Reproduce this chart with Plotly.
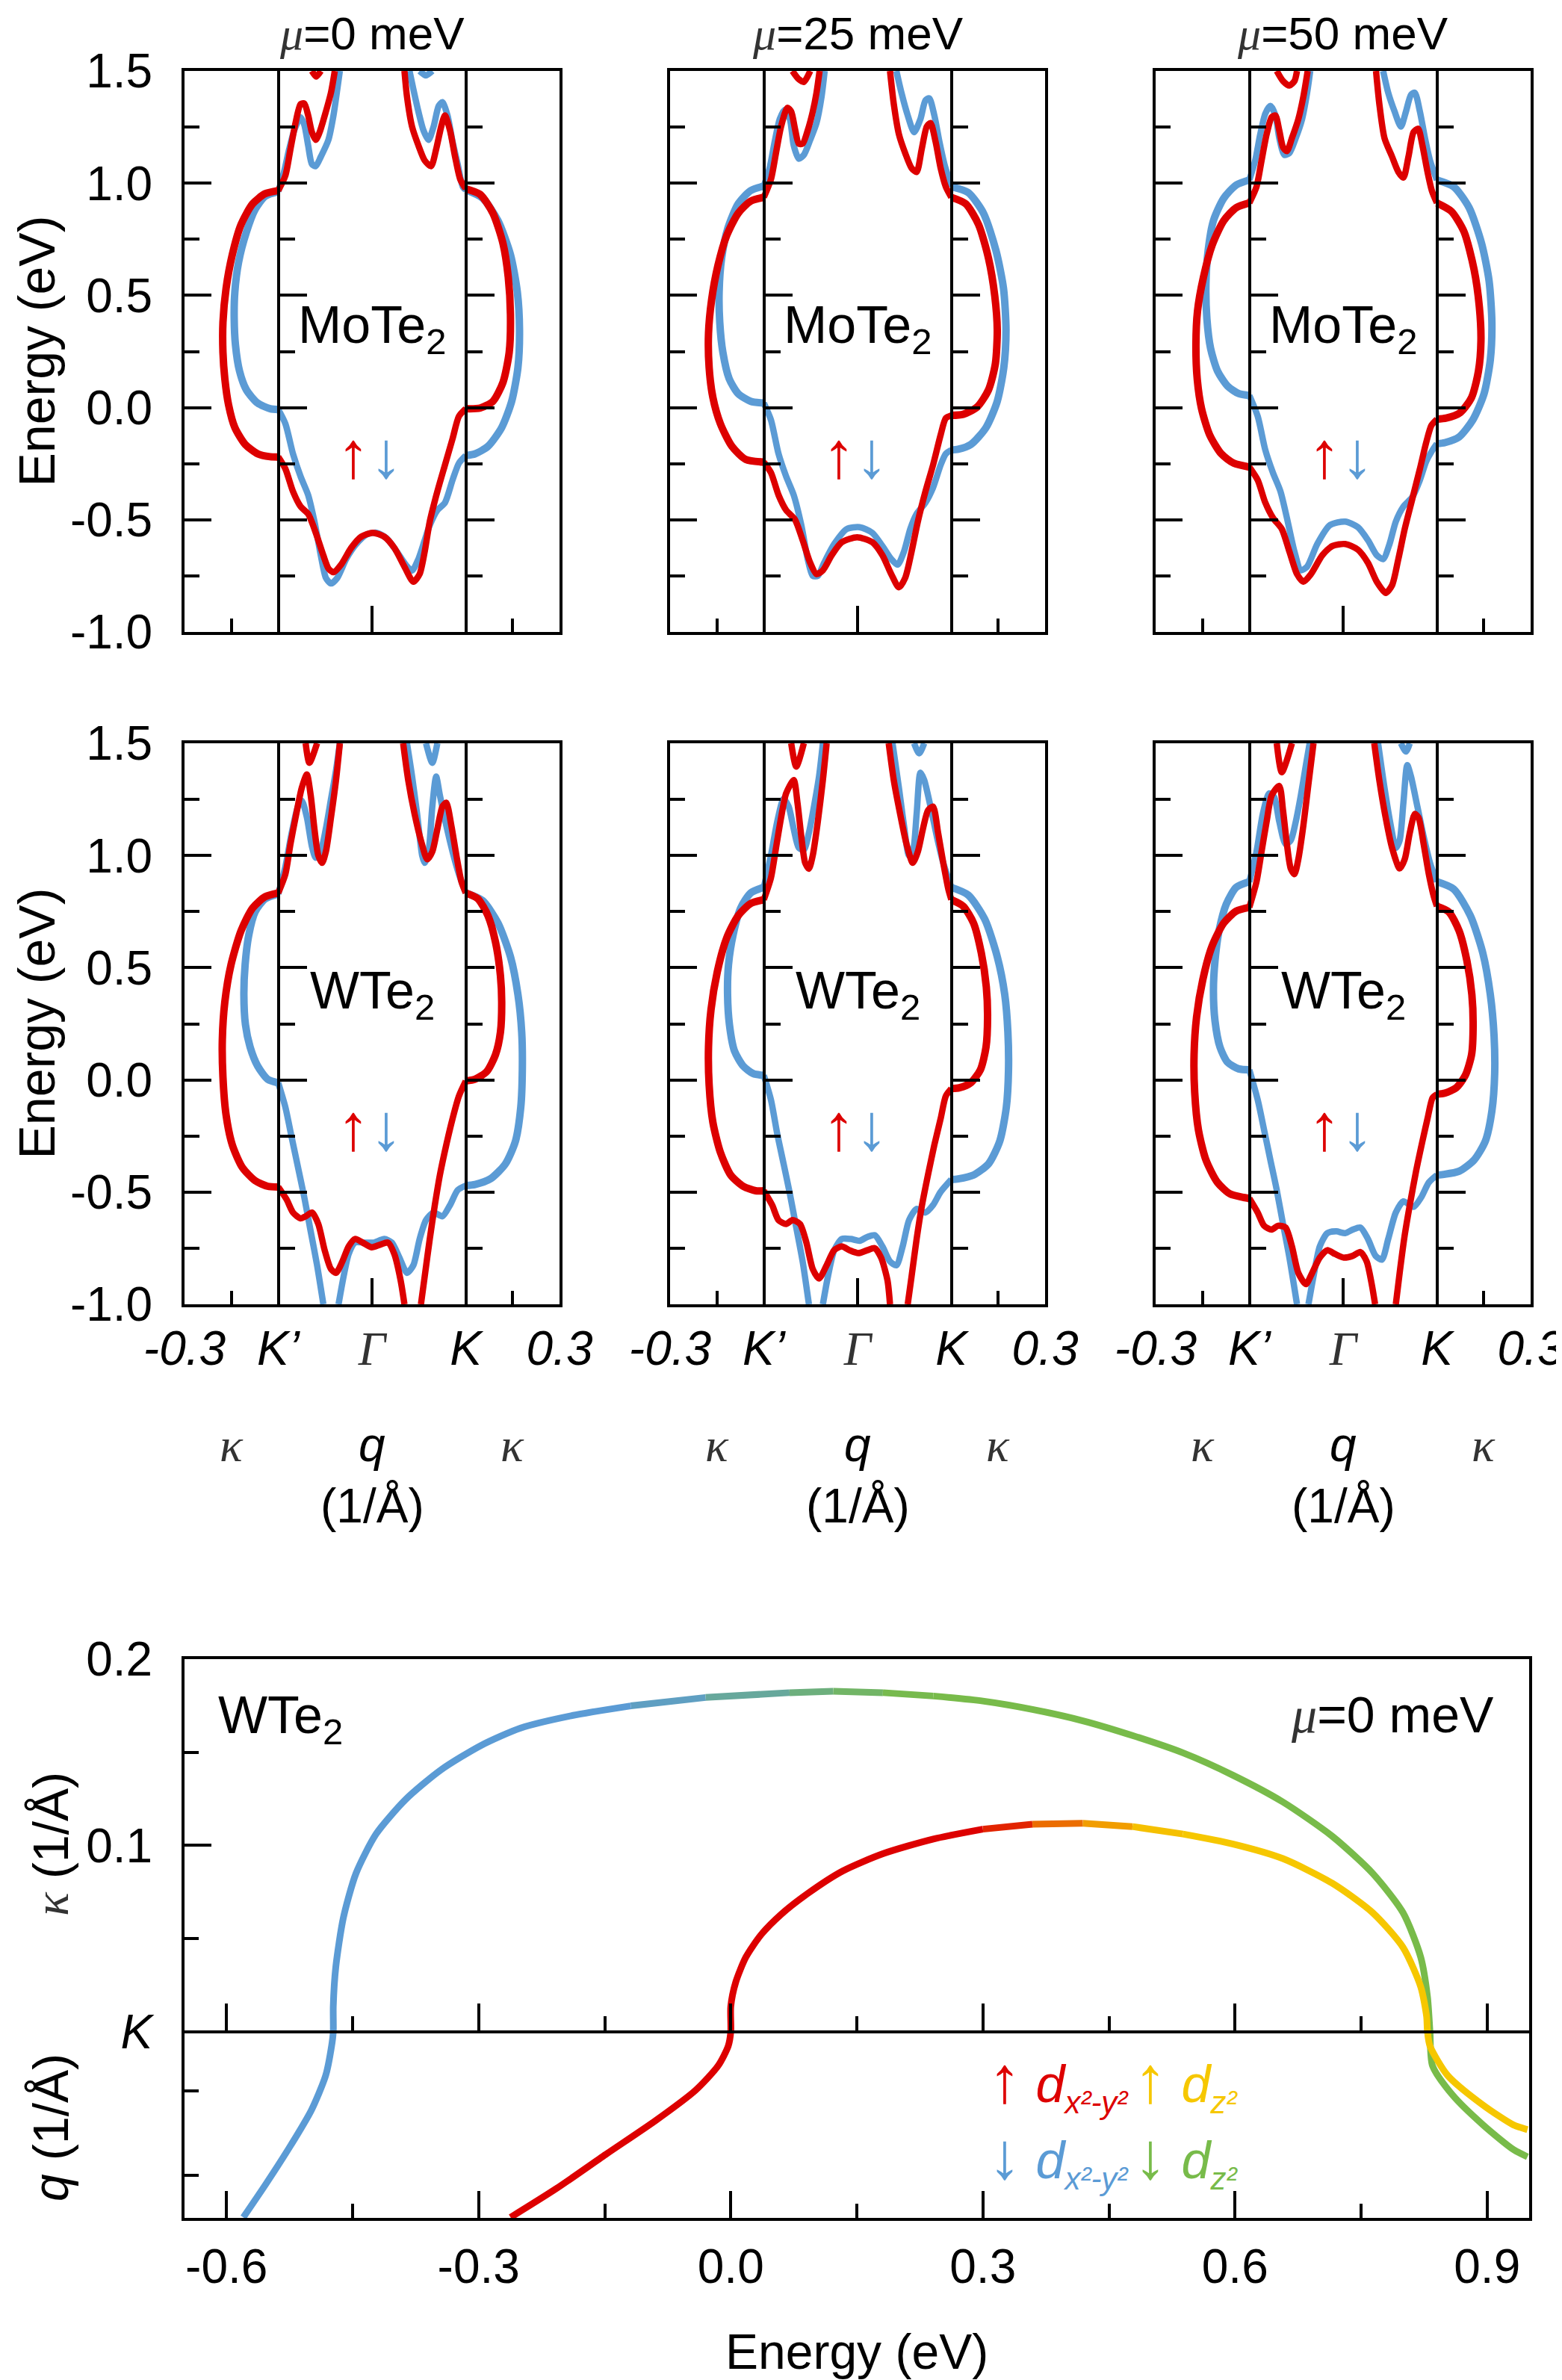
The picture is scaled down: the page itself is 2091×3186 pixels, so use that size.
import plotly.graph_objects as go

# ---------------- data: band panels ----------------
# kappa loops: (kappa 1/A, E eV); left loops negative kappa, right loops positive
# middle bands: (q, E) with q=-1 at K', 0 at Gamma, +1 at K
M0_UP_KL = [(0, 0.967), (-0.042, 0.953), (-0.082, 0.908), (-0.119, 0.816), (-0.147, 0.682), (-0.167, 0.531), (-0.177, 0.380), (-0.177, 0.246), (-0.171, 0.129), (-0.159, 0.012), (-0.139, -0.089), (-0.106, -0.164), (-0.066, -0.206), (-0.026, -0.219), (0, -0.22)]
M0_DN_KL = [(0, 0.963), (-0.042, 0.942), (-0.074, 0.883), (-0.102, 0.782), (-0.127, 0.648), (-0.139, 0.514), (-0.141, 0.397), (-0.137, 0.280), (-0.124, 0.163), (-0.102, 0.079), (-0.066, 0.020), (-0.026, -0.005), (0, -0.008)]
M0_UP_KR = [(0, 0.975), (0.046, 0.950), (0.087, 0.866), (0.119, 0.732), (0.136, 0.581), (0.143, 0.414), (0.139, 0.246), (0.119, 0.112), (0.087, 0.028), (0.046, -0.002), (0, -0.005)]
M0_DN_KR = [(0, 0.970), (0.054, 0.933), (0.103, 0.833), (0.143, 0.682), (0.165, 0.515), (0.172, 0.347), (0.167, 0.179), (0.147, 0.028), (0.115, -0.089), (0.071, -0.173), (0.030, -0.206), (0, -0.214)]
M0_UP_VB = [(-1, -0.22), (-0.924, -0.273), (-0.843, -0.374), (-0.762, -0.441), (-0.681, -0.474), (-0.600, -0.558), (-0.519, -0.659), (-0.465, -0.717), (-0.411, -0.734), (-0.330, -0.700), (-0.222, -0.625), (-0.114, -0.575), (0.008, -0.558), (0.130, -0.575), (0.238, -0.625), (0.346, -0.709), (0.441, -0.776), (0.508, -0.742), (0.562, -0.642), (0.616, -0.508), (0.697, -0.374), (0.778, -0.256), (0.859, -0.139), (0.927, -0.039), (1.0, -0.005)]
M0_DN_VB = [(-1, -0.008), (-0.924, -0.072), (-0.843, -0.206), (-0.762, -0.307), (-0.681, -0.390), (-0.614, -0.508), (-0.546, -0.659), (-0.492, -0.759), (-0.438, -0.784), (-0.370, -0.759), (-0.276, -0.675), (-0.168, -0.608), (-0.059, -0.566), (0.049, -0.558), (0.157, -0.583), (0.265, -0.642), (0.359, -0.700), (0.427, -0.726), (0.495, -0.675), (0.562, -0.591), (0.616, -0.524), (0.697, -0.457), (0.778, -0.424), (0.859, -0.323), (0.927, -0.248), (1.0, -0.214)]
M0_UP_CBL = [(-1, 0.967), (-0.924, 1.034), (-0.870, 1.151), (-0.816, 1.268), (-0.762, 1.352), (-0.722, 1.355), (-0.681, 1.302), (-0.641, 1.227), (-0.600, 1.193), (-0.559, 1.227), (-0.492, 1.319), (-0.438, 1.403), (-0.397, 1.5)]
M0_DN_CBL = [(-1, 0.963), (-0.938, 1.051), (-0.884, 1.151), (-0.830, 1.235), (-0.762, 1.294), (-0.722, 1.260), (-0.681, 1.168), (-0.641, 1.085), (-0.600, 1.076), (-0.546, 1.118), (-0.465, 1.193), (-0.411, 1.302), (-0.370, 1.420), (-0.343, 1.5)]
M0_UP_CBR = [(0.346, 1.5), (0.373, 1.386), (0.427, 1.252), (0.495, 1.168), (0.562, 1.101), (0.630, 1.076), (0.684, 1.151), (0.738, 1.252), (0.778, 1.302), (0.832, 1.235), (0.886, 1.118), (0.941, 1.017), (1.0, 0.975)]
M0_DN_CBR = [(0.400, 1.5), (0.441, 1.419), (0.495, 1.319), (0.549, 1.235), (0.603, 1.193), (0.657, 1.252), (0.711, 1.344), (0.751, 1.361), (0.805, 1.302), (0.859, 1.185), (0.914, 1.084), (0.968, 0.984), (1.0, 0.970)]
M0_UP_CAP = [(-0.641, 1.5), (-0.595, 1.475), (-0.546, 1.5)]
M0_DN_CAP = [(0.508, 1.5), (0.576, 1.48), (0.643, 1.5)]

M25_UP_KL = [(0, 0.937), (-0.042, 0.920), (-0.082, 0.866), (-0.119, 0.766), (-0.147, 0.632), (-0.167, 0.481), (-0.177, 0.330), (-0.175, 0.179), (-0.163, 0.045), (-0.139, -0.072), (-0.102, -0.173), (-0.058, -0.231), (0, -0.243)]
M25_DN_KL = [(0, 0.987), (-0.042, 0.967), (-0.082, 0.908), (-0.115, 0.799), (-0.135, 0.666), (-0.143, 0.515), (-0.141, 0.380), (-0.131, 0.246), (-0.111, 0.129), (-0.082, 0.062), (-0.042, 0.028), (0, 0.020)]
M25_UP_KR = [(0, 0.937), (0.046, 0.908), (0.087, 0.816), (0.119, 0.665), (0.139, 0.498), (0.147, 0.347), (0.141, 0.196), (0.119, 0.079), (0.083, 0.003), (0.038, -0.030), (0, -0.035)]
M25_DN_KR = [(0, 0.984), (0.054, 0.958), (0.103, 0.866), (0.143, 0.699), (0.167, 0.531), (0.175, 0.347), (0.168, 0.179), (0.147, 0.028), (0.111, -0.089), (0.063, -0.164), (0.022, -0.186), (0, -0.189)]
M25_UP_VB = [(-1, -0.243), (-0.924, -0.290), (-0.843, -0.390), (-0.762, -0.457), (-0.668, -0.499), (-0.586, -0.591), (-0.505, -0.692), (-0.438, -0.742), (-0.370, -0.725), (-0.276, -0.658), (-0.168, -0.600), (-0.005, -0.578), (0.157, -0.600), (0.265, -0.658), (0.359, -0.742), (0.441, -0.801), (0.508, -0.759), (0.576, -0.642), (0.643, -0.508), (0.724, -0.374), (0.805, -0.256), (0.886, -0.122), (0.941, -0.047), (1.0, -0.035)]
M25_DN_VB = [(-1, 0.020), (-0.924, -0.055), (-0.843, -0.206), (-0.762, -0.307), (-0.681, -0.390), (-0.600, -0.524), (-0.532, -0.675), (-0.478, -0.750), (-0.424, -0.750), (-0.357, -0.692), (-0.249, -0.608), (-0.114, -0.541), (0.022, -0.533), (0.157, -0.558), (0.265, -0.617), (0.359, -0.675), (0.427, -0.700), (0.495, -0.642), (0.562, -0.541), (0.630, -0.474), (0.724, -0.424), (0.805, -0.357), (0.886, -0.256), (0.941, -0.206), (1.0, -0.189)]
M25_UP_CBL = [(-1, 0.937), (-0.924, 1.017), (-0.870, 1.135), (-0.816, 1.252), (-0.749, 1.336), (-0.708, 1.319), (-0.668, 1.243), (-0.627, 1.176), (-0.586, 1.176), (-0.532, 1.235), (-0.478, 1.319), (-0.438, 1.403), (-0.405, 1.5)]
M25_DN_CBL = [(-1, 0.987), (-0.938, 1.068), (-0.884, 1.185), (-0.830, 1.286), (-0.776, 1.327), (-0.722, 1.286), (-0.681, 1.168), (-0.627, 1.109), (-0.573, 1.126), (-0.505, 1.193), (-0.438, 1.268), (-0.384, 1.386), (-0.351, 1.5)]
M25_UP_CBR = [(0.346, 1.5), (0.386, 1.354), (0.441, 1.218), (0.508, 1.134), (0.576, 1.067), (0.630, 1.050), (0.684, 1.151), (0.738, 1.252), (0.778, 1.268), (0.832, 1.185), (0.886, 1.067), (0.941, 0.984), (1.0, 0.937)]
M25_DN_CBR = [(0.414, 1.5), (0.468, 1.403), (0.535, 1.302), (0.603, 1.227), (0.670, 1.285), (0.724, 1.369), (0.765, 1.378), (0.819, 1.302), (0.873, 1.185), (0.927, 1.084), (1.0, 0.984)]
M25_UP_CAP = [(-0.695, 1.5), (-0.627, 1.463), (-0.573, 1.451), (-0.505, 1.5)]

M50_UP_KL = [(0, 0.912), (-0.042, 0.891), (-0.082, 0.833), (-0.119, 0.724), (-0.147, 0.581), (-0.166, 0.430), (-0.171, 0.280), (-0.167, 0.129), (-0.153, -0.005), (-0.127, -0.122), (-0.090, -0.206), (-0.050, -0.248), (0, -0.265)]
M50_DN_KL = [(0, 1.014), (-0.042, 0.992), (-0.082, 0.933), (-0.115, 0.833), (-0.132, 0.699), (-0.139, 0.548), (-0.136, 0.397), (-0.124, 0.263), (-0.102, 0.163), (-0.070, 0.096), (-0.034, 0.062), (0, 0.054)]
M50_UP_KR = [(0, 0.912), (0.046, 0.875), (0.087, 0.783), (0.119, 0.615), (0.136, 0.447), (0.141, 0.297), (0.133, 0.162), (0.111, 0.045), (0.075, -0.022), (0.030, -0.047), (0, -0.052)]
M50_DN_KR = [(0, 1.014), (0.054, 0.984), (0.103, 0.891), (0.143, 0.732), (0.167, 0.565), (0.176, 0.380), (0.171, 0.213), (0.151, 0.062), (0.115, -0.055), (0.071, -0.131), (0.026, -0.156), (0, -0.161)]
M50_UP_VB = [(-1, -0.265), (-0.911, -0.323), (-0.830, -0.424), (-0.749, -0.491), (-0.654, -0.541), (-0.573, -0.642), (-0.492, -0.742), (-0.424, -0.776), (-0.343, -0.742), (-0.222, -0.658), (-0.114, -0.617), (0.022, -0.608), (0.157, -0.633), (0.265, -0.692), (0.359, -0.776), (0.454, -0.826), (0.522, -0.792), (0.589, -0.675), (0.657, -0.541), (0.738, -0.407), (0.819, -0.273), (0.886, -0.156), (0.941, -0.080), (1.0, -0.052)]
M50_DN_VB = [(-1, 0.054), (-0.911, -0.039), (-0.830, -0.189), (-0.749, -0.290), (-0.668, -0.374), (-0.600, -0.491), (-0.519, -0.642), (-0.451, -0.725), (-0.384, -0.709), (-0.276, -0.608), (-0.141, -0.524), (0.022, -0.508), (0.157, -0.533), (0.265, -0.591), (0.359, -0.658), (0.427, -0.675), (0.495, -0.608), (0.562, -0.508), (0.643, -0.441), (0.738, -0.399), (0.819, -0.323), (0.886, -0.240), (0.954, -0.189), (1.0, -0.161)]
M50_UP_CBL = [(-1, 0.912), (-0.924, 0.984), (-0.870, 1.101), (-0.816, 1.218), (-0.762, 1.294), (-0.722, 1.302), (-0.681, 1.235), (-0.641, 1.160), (-0.600, 1.143), (-0.546, 1.201), (-0.478, 1.285), (-0.424, 1.386), (-0.378, 1.5)]
M50_DN_CBL = [(-1, 1.014), (-0.938, 1.101), (-0.884, 1.218), (-0.830, 1.310), (-0.776, 1.344), (-0.722, 1.302), (-0.681, 1.201), (-0.627, 1.126), (-0.573, 1.134), (-0.505, 1.201), (-0.438, 1.285), (-0.384, 1.403), (-0.351, 1.5)]
M50_UP_CBR = [(0.351, 1.5), (0.386, 1.354), (0.441, 1.201), (0.522, 1.118), (0.589, 1.050), (0.643, 1.025), (0.697, 1.118), (0.751, 1.227), (0.800, 1.243), (0.846, 1.168), (0.900, 1.050), (0.946, 0.967), (1.0, 0.912)]
M50_DN_CBR = [(0.427, 1.5), (0.481, 1.403), (0.549, 1.319), (0.616, 1.252), (0.670, 1.319), (0.724, 1.394), (0.765, 1.403), (0.819, 1.319), (0.873, 1.201), (0.927, 1.101), (1.0, 1.014)]
M50_UP_CAP = [(-0.708, 1.5), (-0.641, 1.455), (-0.573, 1.435), (-0.519, 1.455), (-0.492, 1.5)]

W0_UP_KL = [(0, 0.833), (-0.042, 0.816), (-0.082, 0.766), (-0.119, 0.665), (-0.151, 0.514), (-0.171, 0.347), (-0.179, 0.179), (-0.177, 0.012), (-0.167, -0.156), (-0.147, -0.290), (-0.115, -0.390), (-0.074, -0.449), (-0.034, -0.474), (0, -0.477)]
W0_DN_KL = [(0, 0.829), (-0.042, 0.807), (-0.074, 0.749), (-0.094, 0.648), (-0.106, 0.514), (-0.110, 0.380), (-0.105, 0.246), (-0.090, 0.146), (-0.066, 0.062), (-0.034, 0.003), (0, -0.013)]
W0_UP_KR = [(0, 0.833), (0.038, 0.808), (0.071, 0.732), (0.095, 0.615), (0.111, 0.464), (0.115, 0.347), (0.111, 0.213), (0.095, 0.112), (0.067, 0.037), (0.030, 0.003), (0, -0.005)]
W0_DN_KR = [(0, 0.833), (0.054, 0.799), (0.103, 0.699), (0.143, 0.549), (0.167, 0.380), (0.179, 0.213), (0.181, 0.045), (0.176, -0.122), (0.159, -0.273), (0.127, -0.374), (0.079, -0.441), (0.030, -0.466), (0, -0.471)]
W0_UP_VB1 = [(-1, -0.477), (-0.911, -0.533), (-0.843, -0.591), (-0.762, -0.617), (-0.708, -0.608), (-0.641, -0.591), (-0.573, -0.642), (-0.505, -0.759), (-0.438, -0.843), (-0.384, -0.860), (-0.316, -0.809), (-0.249, -0.742), (-0.181, -0.709), (-0.100, -0.725), (-0.005, -0.746), (0.089, -0.734), (0.170, -0.725), (0.238, -0.776), (0.305, -0.893), (0.346, -1.0)]
W0_UP_VB2 = [(0.522, -1.0), (0.562, -0.876), (0.616, -0.709), (0.670, -0.558), (0.724, -0.424), (0.792, -0.290), (0.859, -0.173), (0.927, -0.072), (1.0, -0.005)]
W0_DN_VB1 = [(-1, -0.013), (-0.924, -0.122), (-0.857, -0.256), (-0.789, -0.390), (-0.722, -0.524), (-0.654, -0.675), (-0.586, -0.826), (-0.519, -1.0)]
W0_DN_VB2 = [(-0.357, -1.0), (-0.303, -0.876), (-0.249, -0.776), (-0.181, -0.725), (-0.086, -0.725), (0.022, -0.725), (0.130, -0.709), (0.211, -0.725), (0.292, -0.792), (0.373, -0.860), (0.441, -0.826), (0.508, -0.709), (0.576, -0.625), (0.657, -0.591), (0.751, -0.608), (0.832, -0.558), (0.914, -0.491), (1.0, -0.471)]
W0_UP_CBL = [(-1, 0.833), (-0.924, 0.917), (-0.870, 1.051), (-0.816, 1.168), (-0.749, 1.302), (-0.695, 1.361), (-0.654, 1.268), (-0.614, 1.118), (-0.573, 1.0), (-0.532, 0.967), (-0.492, 1.017), (-0.438, 1.168), (-0.384, 1.336), (-0.343, 1.5)]
W0_DN_CBL = [(-1, 0.829), (-0.924, 0.95), (-0.857, 1.10), (-0.789, 1.22), (-0.749, 1.245), (-0.695, 1.17), (-0.641, 1.04), (-0.600, 0.99), (-0.546, 1.02), (-0.492, 1.12), (-0.438, 1.25), (-0.384, 1.38), (-0.343, 1.5)]
W0_UP_CBR = [(0.332, 1.5), (0.386, 1.336), (0.454, 1.185), (0.522, 1.067), (0.589, 0.983), (0.643, 1.017), (0.697, 1.118), (0.751, 1.218), (0.792, 1.235), (0.846, 1.134), (0.900, 1.0), (0.954, 0.883), (1.0, 0.833)]
W0_DN_CBR = [(0.373, 1.5), (0.427, 1.354), (0.481, 1.185), (0.535, 1.0), (0.562, 0.967), (0.603, 1.017), (0.643, 1.218), (0.684, 1.352), (0.724, 1.268), (0.792, 1.134), (0.859, 1.017), (0.927, 0.917), (1.0, 0.833)]
W0_UP_CAP = [(-0.708, 1.5), (-0.668, 1.413), (-0.586, 1.5)]
W0_DN_CAP = [(0.576, 1.5), (0.643, 1.413), (0.697, 1.5)]

W25_UP_KL = [(0, 0.803), (-0.042, 0.786), (-0.082, 0.732), (-0.119, 0.632), (-0.149, 0.481), (-0.169, 0.313), (-0.177, 0.146), (-0.175, -0.022), (-0.163, -0.189), (-0.139, -0.323), (-0.106, -0.424), (-0.066, -0.474), (-0.026, -0.494), (0, -0.494)]
W25_DN_KL = [(0, 0.858), (-0.042, 0.833), (-0.074, 0.766), (-0.098, 0.648), (-0.113, 0.514), (-0.116, 0.380), (-0.110, 0.246), (-0.094, 0.129), (-0.066, 0.062), (-0.034, 0.028), (0, 0.020)]
W25_UP_KR = [(0, 0.803), (0.038, 0.774), (0.071, 0.699), (0.096, 0.565), (0.112, 0.414), (0.116, 0.280), (0.111, 0.146), (0.093, 0.045), (0.062, -0.013), (0.026, -0.035), (0, -0.039)]
W25_DN_KR = [(0, 0.858), (0.054, 0.824), (0.107, 0.716), (0.147, 0.549), (0.171, 0.380), (0.181, 0.213), (0.183, 0.045), (0.176, -0.122), (0.155, -0.273), (0.119, -0.374), (0.071, -0.424), (0.022, -0.441), (0, -0.444)]
W25_UP_VB1 = [(-1, -0.494), (-0.911, -0.558), (-0.843, -0.625), (-0.762, -0.642), (-0.695, -0.625), (-0.614, -0.642), (-0.546, -0.725), (-0.478, -0.843), (-0.411, -0.885), (-0.330, -0.826), (-0.249, -0.759), (-0.168, -0.742), (-0.086, -0.759), (0.008, -0.772), (0.103, -0.759), (0.184, -0.750), (0.251, -0.792), (0.319, -0.893), (0.346, -1.0)]
W25_UP_VB2 = [(0.535, -1.0), (0.576, -0.876), (0.630, -0.709), (0.684, -0.566), (0.751, -0.424), (0.819, -0.290), (0.886, -0.173), (0.941, -0.072), (1.0, -0.039)]
W25_DN_VB1 = [(-1, 0.020), (-0.924, -0.089), (-0.857, -0.240), (-0.789, -0.374), (-0.722, -0.508), (-0.654, -0.658), (-0.586, -0.809), (-0.519, -1.0)]
W25_DN_VB2 = [(-0.370, -1.0), (-0.316, -0.876), (-0.249, -0.759), (-0.168, -0.709), (-0.073, -0.709), (0.022, -0.717), (0.103, -0.700), (0.184, -0.692), (0.265, -0.742), (0.346, -0.809), (0.414, -0.826), (0.481, -0.742), (0.549, -0.625), (0.630, -0.575), (0.724, -0.591), (0.805, -0.558), (0.886, -0.499), (1.0, -0.444)]
W25_UP_CBL = [(-1, 0.803), (-0.924, 0.900), (-0.870, 1.034), (-0.816, 1.168), (-0.762, 1.277), (-0.681, 1.336), (-0.641, 1.235), (-0.600, 1.084), (-0.559, 0.967), (-0.519, 0.941), (-0.478, 1.0), (-0.424, 1.151), (-0.370, 1.336), (-0.330, 1.5)]
W25_DN_CBL = [(-1, 0.858), (-0.924, 1.0), (-0.857, 1.151), (-0.789, 1.252), (-0.735, 1.218), (-0.681, 1.118), (-0.627, 1.034), (-0.573, 1.025), (-0.519, 1.101), (-0.465, 1.218), (-0.411, 1.352), (-0.370, 1.5)]
W25_UP_CBR = [(0.332, 1.5), (0.386, 1.336), (0.454, 1.185), (0.522, 1.051), (0.589, 0.967), (0.643, 1.017), (0.697, 1.118), (0.751, 1.201), (0.805, 1.218), (0.859, 1.101), (0.914, 0.967), (0.968, 0.850), (1.0, 0.803)]
W25_DN_CBR = [(0.373, 1.5), (0.441, 1.302), (0.495, 1.134), (0.549, 1.0), (0.589, 1.017), (0.630, 1.185), (0.670, 1.369), (0.711, 1.336), (0.778, 1.218), (0.846, 1.084), (0.914, 0.967), (1.0, 0.858)]
W25_UP_CAP = [(-0.708, 1.5), (-0.654, 1.396), (-0.573, 1.5)]
W25_DN_CAP = [(0.603, 1.5), (0.657, 1.455), (0.711, 1.5)]

W50_UP_KL = [(0, 0.769), (-0.042, 0.752), (-0.082, 0.699), (-0.119, 0.598), (-0.149, 0.447), (-0.169, 0.280), (-0.177, 0.112), (-0.175, -0.055), (-0.163, -0.223), (-0.139, -0.357), (-0.102, -0.457), (-0.062, -0.508), (-0.018, -0.524), (0, -0.528)]
W50_DN_KL = [(0, 0.883), (-0.042, 0.858), (-0.074, 0.783), (-0.097, 0.665), (-0.110, 0.531), (-0.115, 0.397), (-0.110, 0.263), (-0.094, 0.146), (-0.070, 0.079), (-0.034, 0.049), (0, 0.045)]
W50_UP_KR = [(0, 0.774), (0.038, 0.749), (0.071, 0.665), (0.096, 0.531), (0.112, 0.380), (0.116, 0.246), (0.111, 0.112), (0.091, 0.020), (0.062, -0.035), (0.026, -0.059), (0, -0.064)]
W50_DN_KR = [(0, 0.883), (0.054, 0.850), (0.107, 0.732), (0.147, 0.565), (0.171, 0.380), (0.183, 0.196), (0.185, 0.028), (0.176, -0.139), (0.155, -0.273), (0.119, -0.357), (0.071, -0.407), (0.022, -0.421), (0, -0.424)]
W50_UP_VB1 = [(-1, -0.528), (-0.911, -0.591), (-0.843, -0.650), (-0.762, -0.667), (-0.695, -0.650), (-0.614, -0.658), (-0.546, -0.742), (-0.478, -0.860), (-0.397, -0.910), (-0.330, -0.860), (-0.249, -0.792), (-0.168, -0.759), (-0.086, -0.776), (0.008, -0.792), (0.103, -0.784), (0.184, -0.767), (0.251, -0.809), (0.305, -0.910), (0.341, -1.0)]
W50_UP_VB2 = [(0.562, -1.0), (0.603, -0.860), (0.657, -0.692), (0.711, -0.558), (0.778, -0.407), (0.846, -0.273), (0.900, -0.173), (0.954, -0.080), (1.0, -0.064)]
W50_DN_VB1 = [(-1, 0.045), (-0.911, -0.089), (-0.843, -0.223), (-0.776, -0.357), (-0.708, -0.491), (-0.641, -0.642), (-0.573, -0.792), (-0.492, -1.0)]
W50_DN_VB2 = [(-0.370, -1.0), (-0.316, -0.876), (-0.249, -0.742), (-0.168, -0.683), (-0.073, -0.675), (0.022, -0.683), (0.103, -0.667), (0.184, -0.658), (0.265, -0.709), (0.346, -0.784), (0.414, -0.801), (0.481, -0.709), (0.562, -0.591), (0.643, -0.541), (0.751, -0.566), (0.832, -0.524), (0.914, -0.457), (1.0, -0.424)]
W50_UP_CBL = [(-1, 0.769), (-0.924, 0.883), (-0.870, 1.017), (-0.816, 1.151), (-0.762, 1.268), (-0.681, 1.310), (-0.641, 1.201), (-0.600, 1.051), (-0.559, 0.942), (-0.519, 0.917), (-0.478, 0.983), (-0.424, 1.134), (-0.370, 1.319), (-0.316, 1.5)]
W50_DN_CBL = [(-1, 0.883), (-0.924, 1.017), (-0.857, 1.185), (-0.789, 1.277), (-0.735, 1.260), (-0.681, 1.151), (-0.614, 1.051), (-0.559, 1.067), (-0.505, 1.151), (-0.451, 1.268), (-0.397, 1.403), (-0.357, 1.5)]
W50_UP_CBR = [(0.332, 1.5), (0.386, 1.336), (0.454, 1.168), (0.522, 1.034), (0.603, 0.942), (0.657, 0.983), (0.711, 1.101), (0.765, 1.185), (0.805, 1.168), (0.859, 1.051), (0.914, 0.917), (0.968, 0.816), (1.0, 0.774)]
W50_DN_CBR = [(0.373, 1.5), (0.441, 1.302), (0.508, 1.134), (0.562, 1.034), (0.603, 1.067), (0.643, 1.235), (0.684, 1.403), (0.724, 1.352), (0.792, 1.218), (0.859, 1.084), (0.927, 0.967), (1.0, 0.883)]
W50_UP_CAP = [(-0.708, 1.5), (-0.654, 1.371), (-0.546, 1.5)]
W50_DN_CAP = [(0.616, 1.5), (0.670, 1.463), (0.711, 1.5)]

# ---------------- data: bottom panel (E eV, kappa above K / -q below K, 1/A) ----------------
BOT_DN = [(-0.580, -0.0997), (-0.553, -0.0817), (-0.523, -0.0606), (-0.499, -0.0421), (-0.482, -0.0235), (-0.475, -0.0077), (-0.473, 0.0), (-0.473, 0.0135), (-0.470, 0.0347), (-0.461, 0.0611), (-0.446, 0.0849), (-0.422, 0.1061), (-0.387, 0.1246), (-0.345, 0.1405), (-0.297, 0.1537), (-0.250, 0.163), (-0.190, 0.1696), (-0.119, 0.1749), (-0.030, 0.1794), (0.070, 0.182), (0.122, 0.1828), (0.181, 0.182), (0.241, 0.1802), (0.300, 0.1775), (0.359, 0.173), (0.419, 0.1669), (0.478, 0.159), (0.538, 0.1497), (0.597, 0.1378), (0.657, 0.1233), (0.716, 0.1048), (0.764, 0.0849), (0.800, 0.0638), (0.821, 0.040), (0.829, 0.0188), (0.832, 0.0), (0.835, -0.0183), (0.859, -0.0341), (0.895, -0.050), (0.931, -0.0632), (0.948, -0.0672)]
BOT_UP = [(-0.262, -0.0997), (-0.208, -0.0844), (-0.149, -0.066), (-0.089, -0.0476), (-0.042, -0.0315), (-0.015, -0.0183), (-0.003, -0.0077), (0.0, 0.0), (0.0, 0.0135), (0.006, 0.0267), (0.018, 0.040), (0.036, 0.052), (0.060, 0.063), (0.092, 0.0743), (0.133, 0.0862), (0.181, 0.0955), (0.241, 0.1034), (0.300, 0.1087), (0.359, 0.1114), (0.419, 0.1119), (0.478, 0.1101), (0.538, 0.1061), (0.597, 0.1008), (0.657, 0.0929), (0.716, 0.0796), (0.764, 0.0638), (0.800, 0.0452), (0.821, 0.0241), (0.828, 0.0082), (0.829, 0.0), (0.832, -0.0077), (0.853, -0.0235), (0.895, -0.0394), (0.931, -0.050), (0.948, -0.0526)]

E_TICKS = [-1.0, -0.5, 0.0, 0.5, 1.0, 1.5]
E_MINOR = [-0.75, -0.25, 0.25, 0.75, 1.25]
BOT_E_TICKS = [-0.6, -0.3, 0.0, 0.3, 0.6, 0.9]
BOT_E_MINOR = [-0.45, -0.15, 0.15, 0.45, 0.75]
BOT_K_TICKS = [0.0, 0.1, 0.2]
BOT_K_MINOR = [-0.077, -0.032, 0.05, 0.15]
MU_VALUES = ['0', '25', '50']

PANELS = [
    ('MoTe', M0_UP_KL, M0_DN_KL, M0_UP_KR, M0_DN_KR, [M0_UP_VB, M0_UP_CBL, M0_UP_CBR, M0_UP_CAP], [M0_DN_VB, M0_DN_CBL, M0_DN_CBR, M0_DN_CAP]),
    ('MoTe', M25_UP_KL, M25_DN_KL, M25_UP_KR, M25_DN_KR, [M25_UP_VB, M25_UP_CBL, M25_UP_CBR, M25_UP_CAP], [M25_DN_VB, M25_DN_CBL, M25_DN_CBR]),
    ('MoTe', M50_UP_KL, M50_DN_KL, M50_UP_KR, M50_DN_KR, [M50_UP_VB, M50_UP_CBL, M50_UP_CBR, M50_UP_CAP], [M50_DN_VB, M50_DN_CBL, M50_DN_CBR]),
    ('WTe', W0_UP_KL, W0_DN_KL, W0_UP_KR, W0_DN_KR, [W0_UP_VB1, W0_UP_VB2, W0_UP_CBL, W0_UP_CBR, W0_UP_CAP], [W0_DN_VB1, W0_DN_VB2, W0_DN_CBL, W0_DN_CBR, W0_DN_CAP]),
    ('WTe', W25_UP_KL, W25_DN_KL, W25_UP_KR, W25_DN_KR, [W25_UP_VB1, W25_UP_VB2, W25_UP_CBL, W25_UP_CBR, W25_UP_CAP], [W25_DN_VB1, W25_DN_VB2, W25_DN_CBL, W25_DN_CBR, W25_DN_CAP]),
    ('WTe', W50_UP_KL, W50_DN_KL, W50_UP_KR, W50_DN_KR, [W50_UP_VB1, W50_UP_VB2, W50_UP_CBL, W50_UP_CBR, W50_UP_CAP], [W50_DN_VB1, W50_DN_VB2, W50_DN_CBL, W50_DN_CBR, W50_DN_CAP]),
]

# ---------------- style / layout ----------------
W, H = 2091, 3186
FONT = 'Liberation Sans, Arial, Helvetica, sans-serif'
SERIF = 'Liberation Serif'
RED, BLUE = '#DD0000', '#5B9BD5'
RGB_RED, RGB_ORANGE, RGB_YELLOW = (221, 0, 0), (238, 135, 0), (246, 199, 0)
RGB_BLUE, RGB_GREEN = (91, 155, 213), (120, 187, 74)
YEL, GRN = '#F6C700', '#78BB4A'
LW = 4
TICKFS = 64

COL_X = [239, 889, 1539]
PANEL_W = 502
ROW_Y = [87, 987]
PANEL_H = 751
BOT_X = (239, 2039)
BOT_Y = (2213, 2961)


def GREEK(s):
    return f"<i><span style='font-family:{SERIF};color:#333333'>{s}</span></i>"


fig = go.Figure()
layout = dict(template='none', width=W, height=H, autosize=False, margin=dict(l=0, r=0, t=0, b=0, pad=0),
              paper_bgcolor='white', plot_bgcolor='white', showlegend=False,
              font=dict(family=FONT, size=TICKFS, color='black'))
ann = []


def frame(**kw):
    d = dict(showline=True, linewidth=LW, linecolor='black', mirror=True, ticks='inside',
             tickwidth=LW, tickcolor='black', showgrid=False, zeroline=False, automargin=False,
             tickfont=dict(size=TICKFS, family=FONT, color='black'))
    d.update(kw)
    return d


def minor(vals, ln):
    return dict(tickvals=vals, ticks='inside', ticklen=ln, tickwidth=LW, tickcolor='black', showgrid=False)


def line_trace(pts, color, xa, ya, xf, width=8.5):
    return go.Scatter(x=[xf(p[0]) for p in pts], y=[p[1] for p in pts], mode='lines',
                      line=dict(color=color, width=width, shape='spline', smoothing=0.7),
                      xaxis=xa, yaxis=ya, hoverinfo='skip')


for i, (mat, up_kl, dn_kl, up_kr, dn_kr, up_mid, dn_mid) in enumerate(PANELS):
    n = i + 1
    r, c = divmod(i, 3)
    x0, x1 = COL_X[c] / W, (COL_X[c] + PANEL_W) / W
    y1, y0 = 1 - ROW_Y[r] / H, 1 - (ROW_Y[r] + PANEL_H) / H
    layout[f'xaxis{n}'] = frame(domain=[x0, x1], anchor=f'y{n}', range=[-0.3, 0.9],
                                tickvals=[-0.3, 0.0, 0.3, 0.6, 0.9],
                                ticktext=['<i>-0.3</i>', '<i>K’</i>', GREEK('Γ'), '<i>K</i>', '<i>0.3</i>'],
                                ticklen=35, minor=minor([-0.15, 0.75], 18),
                                showticklabels=(r == 1), ticklabelstandoff=0)
    layout[f'yaxis{n}'] = frame(domain=[y0, y1], anchor=f'x{n}', range=[-1.0, 1.5],
                                tickvals=E_TICKS, ticktext=[f'{v:.1f}' for v in E_TICKS],
                                ticklen=36, minor=minor(E_MINOR, 20),
                                showticklabels=(c == 0), ticklabelstandoff=26)
    ykp, ykk = f'y{7 + n}', f'y{13 + n}'
    for name, frac in ((ykp, 0.25), (ykk, 0.75)):
        layout['yaxis' + name[1:]] = dict(overlaying=f'y{n}', anchor='free', position=x0 + frac * (x1 - x0),
                                          side='left', range=[-1.0, 1.5], showline=True, linewidth=LW,
                                          linecolor='black', ticks='inside', tickvals=E_TICKS, ticklen=36,
                                          tickwidth=LW, tickcolor='black', minor=minor(E_MINOR, 20),
                                          showticklabels=False, showgrid=False, zeroline=False, automargin=False)
    xa = f'x{n}'
    mid = lambda q: 0.3 + 0.3 * q
    # spin down (blue) underneath, spin up (red) on top
    fig.add_trace(line_trace(dn_kl, BLUE, xa, ykp, lambda k: k, 10))
    fig.add_trace(line_trace(dn_kr, BLUE, xa, ykk, lambda k: 0.6 + k, 10))
    for seg in dn_mid:
        fig.add_trace(line_trace(seg, BLUE, xa, f'y{n}', mid))
    fig.add_trace(line_trace(up_kl, RED, xa, ykp, lambda k: k, 10))
    fig.add_trace(line_trace(up_kr, RED, xa, ykk, lambda k: 0.6 + k, 10))
    for seg in up_mid:
        fig.add_trace(line_trace(seg, RED, xa, f'y{n}', mid))

    ann.append(dict(x=0.3, y=0.35 if r == 0 else 0.38, xref=xa, yref=f'y{n}', text=f'{mat}<sub>2</sub>',
                    showarrow=False, font=dict(size=70, family=FONT, color='black'),
                    xanchor='center', yanchor='middle'))
    ann.append(dict(x=0.292, y=-0.21, xref=xa, yref=f'y{n}',
                    text=f"<span style='color:{RED}'>↑</span><span style='color:{BLUE}'>↓</span>",
                    showarrow=False, font=dict(size=88, family=FONT), xanchor='center', yanchor='middle'))
    if r == 0:
        ann.append(dict(x=(x0 + x1) / 2, y=1 - 36 / H, xref='paper', yref='paper',
                        text=f'{GREEK("μ")}={MU_VALUES[c]} meV', showarrow=False,
                        font=dict(size=62, family=FONT), xanchor='center', yanchor='middle'))
    else:
        for xv, t in ((-0.15, GREEK('κ')), (0.3, '<i>q</i>'), (0.75, GREEK('κ'))):
            ann.append(dict(x=xv, y=1 - 1926 / H, xref=xa, yref='paper', text=t, showarrow=False,
                            font=dict(size=64, family=FONT), xanchor='center', yanchor='middle'))
        ann.append(dict(x=0.3, y=1 - 2008 / H, xref=xa, yref='paper', text='(1/Å)', showarrow=False,
                        font=dict(size=64, family=FONT), xanchor='center', yanchor='middle'))
    if c == 0:
        ann.append(dict(x=40 / W, y=(y0 + y1) / 2, xref='paper', yref='paper', text='Energy (eV)',
                        textangle=-90, showarrow=False, font=dict(size=68, family=FONT),
                        xanchor='center', yanchor='middle'))

# ---------------- bottom panel ----------------
bx0, bx1 = BOT_X[0] / W, BOT_X[1] / W
by1, by0 = 1 - BOT_Y[0] / H, 1 - BOT_Y[1] / H
yk = by0 + (by1 - by0) * (0.1 / 0.3)
layout['xaxis7'] = frame(domain=[bx0, bx1], anchor='y7', range=[-0.65, 0.95], tickvals=BOT_E_TICKS,
                         ticktext=[f'{v:.1f}' for v in BOT_E_TICKS], ticklen=36,
                         minor=minor(BOT_E_MINOR, 19), ticklabelstandoff=6)
layout['yaxis7'] = frame(domain=[by0, by1], anchor='x7', range=[-0.1, 0.2], tickvals=BOT_K_TICKS,
                         ticktext=['<i>K</i>', '0.1', '0.2'], ticklen=36,
                         minor=minor(BOT_K_MINOR, 19), ticklabelstandoff=26)
layout['xaxis8'] = dict(overlaying='x7', anchor='free', position=yk, side='bottom', range=[-0.65, 0.95],
                        showline=True, linewidth=3.5, linecolor='black', ticks='inside',
                        tickvals=BOT_E_TICKS, ticklen=36, tickwidth=LW, tickcolor='black',
                        minor=minor(BOT_E_MINOR, 19), showticklabels=False, showgrid=False,
                        zeroline=False, automargin=False)


def mix(a, b, t):
    return '#%02x%02x%02x' % tuple(round(u + (v - u) * t) for u, v in zip(a, b))


def col_dn(e):
    t = min(max((e + 0.12) / 0.34, 0.0), 1.0)
    return mix(RGB_BLUE, RGB_GREEN, t)


def col_up(e):
    t = min(max((e - 0.30) / 0.22, 0.0), 1.0)
    return mix(RGB_RED, RGB_ORANGE, 2 * t) if t < 0.5 else mix(RGB_ORANGE, RGB_YELLOW, 2 * t - 1)


def add_gradient(pts, colfn, width=9):
    runs = []
    for a, b in zip(pts[:-1], pts[1:]):
        col = colfn((a[0] + b[0]) / 2)
        if runs and runs[-1][0] == col:
            runs[-1][1].append(b)
        else:
            runs.append([col, [a, b]])
    for col, seg in runs:
        fig.add_trace(line_trace(seg, col, 'x8', 'y7', lambda e: e, width))


add_gradient(BOT_DN, col_dn)
add_gradient(BOT_UP, col_up)

ann.append(dict(x=-0.612, y=0.168, xref='x7', yref='y7', text='WTe<sub>2</sub>', showarrow=False,
                font=dict(size=70, family=FONT), xanchor='left', yanchor='middle'))
ann.append(dict(x=0.91, y=0.17, xref='x7', yref='y7', text=f'{GREEK("μ")}=0 meV', showarrow=False,
                font=dict(size=68, family=FONT), xanchor='right', yanchor='middle'))
SUBFS = "font-size:42px"
for yv, arrow, c1, c2 in ((-0.0265, '↑', RED, YEL), (-0.0675, '↓', BLUE, GRN)):
    ann.append(dict(x=0.305, y=yv, xref='x7', yref='y7',
                    text=f"<span style='color:{c1}'><span style='font-size:88px'>{arrow}</span> <i>d</i><sub><i><span style='{SUBFS}'>x²-y²</span></i></sub></span>",
                    showarrow=False, font=dict(size=70, family=FONT), xanchor='left', yanchor='middle'))
    ann.append(dict(x=0.478, y=yv, xref='x7', yref='y7',
                    text=f"<span style='color:{c2}'><span style='font-size:88px'>{arrow}</span> <i>d</i><sub><i><span style='{SUBFS}'>z²</span></i></sub></span>",
                    showarrow=False, font=dict(size=70, family=FONT), xanchor='left', yanchor='middle'))
ann.append(dict(x=(bx0 + bx1) / 2, y=1 - 3140 / H, xref='paper', yref='paper', text='Energy (eV)',
                showarrow=False, font=dict(size=66, family=FONT), xanchor='center', yanchor='middle'))
ann.append(dict(x=60 / W, y=1 - 2461 / H, xref='paper', yref='paper', text=f'{GREEK("κ")} (1/Å)',
                textangle=-90, showarrow=False, font=dict(size=66, family=FONT), xanchor='center', yanchor='middle'))
ann.append(dict(x=60 / W, y=1 - 2840 / H, xref='paper', yref='paper', text='<i>q</i> (1/Å)',
                textangle=-90, showarrow=False, font=dict(size=66, family=FONT), xanchor='center', yanchor='middle'))

layout['annotations'] = ann
fig.update_layout(**layout)
fig.write_html('out.html')
